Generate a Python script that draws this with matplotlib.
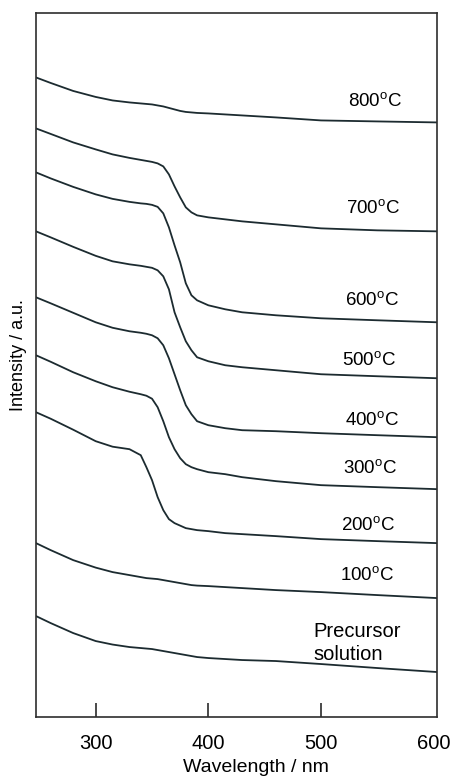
import matplotlib
matplotlib.use("Agg")
import matplotlib.pyplot as plt

plt.rcParams["font.family"] = ["Liberation Sans", "DejaVu Sans"]
plt.rcParams["mathtext.fontset"] = "custom"
plt.rcParams["mathtext.rm"] = "Liberation Sans"
plt.rcParams["mathtext.it"] = "Liberation Sans:italic"

# wavelength grid (nm) shared by all spectra
wavelength = [247, 260, 280, 300, 315, 330, 340, 345, 350, 355, 360, 365,
              370, 375, 380, 385, 390, 400, 415, 430, 460, 500, 550, 603]

# intensities (a.u., stacked as in the figure)
i_800 = [640, 634.5, 626.5, 620.5, 617, 615, 614, 613.5, 613, 612, 611, 609.5,
         608, 606.5, 605.5, 605, 604.5, 604, 603, 602, 600, 597, 596, 595]
i_700 = [589, 583.5, 575, 568, 563, 559.5, 557.5, 556.5, 555.5, 554, 551, 543,
         531, 520, 510, 505, 502, 500, 498, 496, 493, 489, 487, 486]
i_600 = [545, 539, 530.5, 523, 518.5, 515.5, 514, 513.5, 512.5, 510.5, 504, 490,
         472, 455, 434, 422, 417, 412, 408, 405, 402, 399, 397, 395]
i_500 = [486, 480, 470.5, 461.5, 456, 453, 451.5, 450.5, 449.5, 447, 441, 428,
         405, 390, 376, 367, 360, 356, 352, 350, 347, 343, 341, 339]
i_400 = [420, 414, 404.5, 395, 389.5, 386, 384.5, 383.5, 382, 379, 372, 359,
         343, 327, 312, 303, 296, 292, 289, 287, 286, 284, 282, 280]
i_300 = [362, 355.5, 345, 336, 330, 325.5, 323, 321.5, 318.5, 310, 296, 280,
         268, 259, 253, 250, 248, 245, 243, 240, 236, 232, 230, 228]
i_200 = [305, 298.5, 287.5, 276, 270.5, 268, 262, 250, 237, 220, 207, 198,
         194, 191.5, 189, 188, 187, 186, 184, 183, 181, 178, 176, 174]
i_100 = [174, 167, 157, 149.5, 145, 142, 140, 139, 138.5, 138, 137, 136,
         135, 134, 133, 132, 131.5, 131, 130, 129, 127, 125, 122, 119]
i_prec = [101, 94, 84, 76, 72.5, 70, 69, 68.5, 68, 67, 66, 65,
          64, 63, 62, 61, 60, 59, 58, 57, 56, 53, 49, 45]

series = [i_800, i_700, i_600, i_500, i_400, i_300, i_200, i_100, i_prec]
labels = ["800$^{\\rm o}$C", "700$^{\\rm o}$C", "600$^{\\rm o}$C",
          "500$^{\\rm o}$C", "400$^{\\rm o}$C", "300$^{\\rm o}$C",
          "200$^{\\rm o}$C", "100$^{\\rm o}$C"]
label_x = [548, 546, 545, 543, 545, 544, 542, 541]
label_y = [616, 509, 417, 357, 297, 249, 192, 142]

LINE = "#1c2b30"

fig = plt.figure(figsize=(4.51, 7.79), dpi=100)
ax = fig.add_axes([36 / 451, 62 / 779, 401 / 451, 704.5 / 779])

for ys in series:
    ax.plot(wavelength, ys, color=LINE, lw=1.3, solid_capstyle="round",
            solid_joinstyle="round")

for txt, x, y in zip(labels, label_x, label_y):
    ax.text(x, y, txt, ha="center", va="center", fontsize=13.5)
ax.text(493, 74, "Precursor\nsolution", ha="left", va="center",
        fontsize=14.5, linespacing=1.25)

ax.set_xlim(247, 603)
ax.set_ylim(0, 705)
ax.set_xticks([300, 400, 500, 600])
ax.set_yticks([])
ax.tick_params(axis="x", direction="in", length=10, width=1.2,
               labelsize=14.5, pad=12, colors="#2a2a2a", labelcolor="black")
ax.xaxis.get_major_ticks()[-1].tick1line.set_visible(False)
for s in ax.spines.values():
    s.set_color("#2e2e2e")
    s.set_linewidth(1.2)

ax.set_xlabel("Wavelength / nm", fontsize=14)
ax.xaxis.set_label_coords(0.549, -0.060)
ax.set_ylabel("Intensity / a.u.", fontsize=13)
ax.yaxis.set_label_coords(-0.022, 0.514)

fig.savefig("out.png", dpi=100, facecolor="white")
